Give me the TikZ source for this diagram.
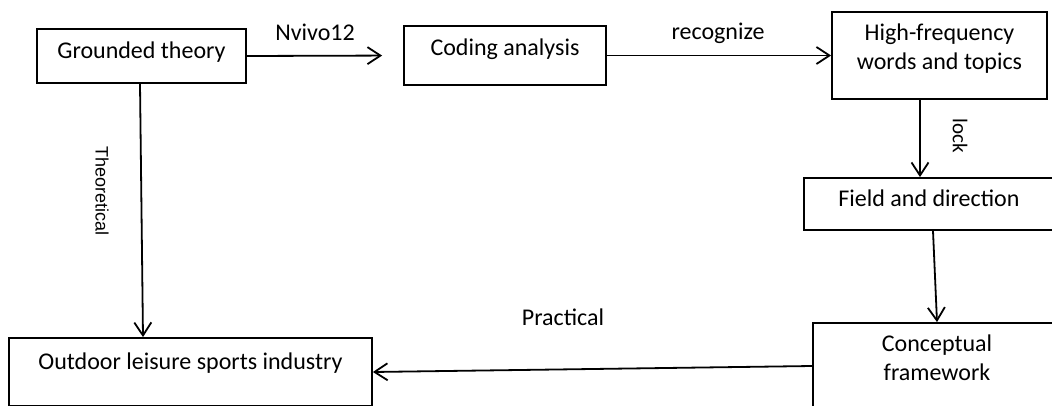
\documentclass[tikz,border=0pt]{standalone}
\usepackage{fontspec}
\setmainfont{Carlito}
\newfontfamily\arialfont{Liberation Sans}
\usetikzlibrary{arrows.meta}

\begin{document}
\begin{tikzpicture}
    \def\dx{1pt}
    \def\dy{1pt}

    \useasboundingbox (0,0) rectangle (1052*\dx,405*\dy);
    \clip (0,0) rectangle (1052*\dx,405*\dy);

    \tikzstyle{box}=[draw=black,line width=1.8pt,inner sep=0pt,align=center,font=\fontsize{24}{29}\selectfont]
    \tikzstyle{lbl}=[inner sep=0pt,font=\fontsize{24}{29}\selectfont]

    \node[box,minimum width=209pt,text height=29.5pt,text depth=24.5pt] (grounded) at (141.5*\dx,349*\dy) {Grounded theory};
    \node[box,minimum width=202pt,text height=29.5pt,text depth=29.5pt] (coding) at (505*\dx,349.5*\dy) {Coding analysis};
    \node[box,minimum width=215pt,text height=58pt,text depth=29pt] (hf) at (939.5*\dx,349.5*\dy) {High-frequency\\words and topics};
    \node[box,minimum width=250pt,text height=28.5pt,text depth=23.5pt] (field) at (929*\dx,201*\dy) {Field and direction};
    \node[box,minimum width=248pt,text height=57.5pt,text depth=28.5pt] (concept) at (937*\dx,39*\dy) {Conceptual\\framework};
    \node[box,minimum width=363pt,text height=31.5pt,text depth=36.5pt] (outdoor) at (190.5*\dx,33*\dy) {Outdoor leisure sports industry};

    \node[lbl] (nvivo) at (315*\dx,373*\dy) {Nvivo12};
    \node[lbl] (recog) at (718*\dx,372*\dy) {recognize};
    \node[lbl,rotate=-90,font=\fontsize{21}{24}\selectfont] (lock) at (960*\dx,269*\dy) {lock};
    \node[lbl,rotate=-90,font=\arialfont\fontsize{18}{22}\selectfont] (theo) at (102*\dx,214*\dy) {Theoretical};
    \node[lbl] (prac) at (563*\dx,88*\dy) {Practical};

    \pgfsetarrowsend{Straight Barb[length=13pt,width=17pt]}
    \tikzstyle{fwd} = [draw=black, line width=1.8pt]

          \draw [fwd,shorten >=21pt] (grounded.east) -- (coding.west);
          \draw [fwd] (coding.east) -- (hf.west);
          \draw [fwd] ([xshift=-19.5pt]hf.south) -- ([xshift=-9pt]field.north);
          \draw [fwd] ([xshift=4pt]field.south) -- (concept.north);
          \draw [fwd] (concept.west) -- (outdoor.east);
          \draw [fwd] ([xshift=-1.5pt]grounded.south) -- ([xshift=-47.5pt]outdoor.north);

\end{tikzpicture}
\end{document}
